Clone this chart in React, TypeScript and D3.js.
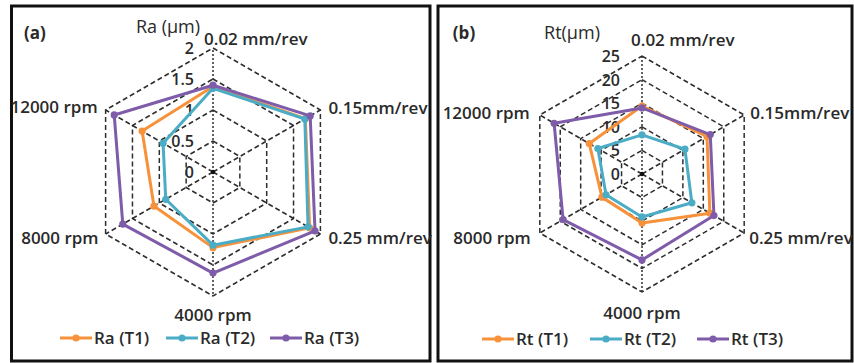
import React from "react";
import * as d3 from "d3";

const categories = ["0.02 mm/rev", "0.15mm/rev", "0.25 mm/rev", "4000 rpm", "8000 rpm", "12000 rpm"];

const raT1 = [1.38, 1.72, 1.8, 1.22, 1.1, 1.32];
const raT2 = [1.35, 1.71, 1.77, 1.18, 0.88, 0.93];
const raT3 = [1.4, 1.81, 1.9, 1.63, 1.68, 1.84];

const rtT1 = [14.4, 15.9, 16.6, 10.4, 9.8, 12.9];
const rtT2 = [8.3, 10.5, 12.2, 9.1, 8.8, 10.8];
const rtT3 = [14.0, 16.7, 17.6, 18.2, 19.3, 21.5];

const raTicks = [0, 0.5, 1, 1.5, 2];
const rtTicks = [0, 5, 10, 15, 20, 25];
const raTickLabels = ["0", "0.5", "1", "1.5", "2"];
const rtTickLabels = ["0", "5", "10", "15", "20", "25"];

const seriesColors = ["#F7923A", "#4BACC6", "#7E5CA9"];
const FONT = "'Open Sans', sans-serif";
const TEXT = "#2a2a2a";
const GRID = "#2e2e2e";

type LabelPos = { dx: number; dy: number; anchor: string };

type PanelProps = {
  frame: [number, number, number, number];
  cx: number;
  cy: number;
  R: number;
  ticks: number[];
  tickLabels: string[];
  tickDx: number;
  series: number[][];
  names: string[];
  title: string;
  titlePos: [number, number];
  tag: string;
  tagPos: [number, number];
  labelPos: LabelPos[];
  legendX: number[];
  legendY: number;
};

function RadarPanel(p: PanelProps) {
  const maxV = p.ticks[p.ticks.length - 1];
  const r = d3.scaleLinear().domain([0, maxV]).range([0, p.R]);
  const n = categories.length;
  const ang = (i: number) => (i * 2 * Math.PI) / n;
  const pt = (i: number, v: number): [number, number] => [
    p.cx + r(v) * Math.sin(ang(i)),
    p.cy - r(v) * Math.cos(ang(i)),
  ];
  const line = d3
    .lineRadial<number>()
    .angle((_, i) => ang(i))
    .radius((d) => r(d))
    .curve(d3.curveLinearClosed);

  const [fx, fy, fw, fh] = p.frame;
  return (
    <g>
      <rect x={fx} y={fy} width={fw} height={fh} fill="white" stroke="#111" strokeWidth={3} />
      {p.ticks.slice(1).map((t) => (
        <path
          key={"ring" + t}
          d={line(categories.map(() => t)) || ""}
          transform={`translate(${p.cx},${p.cy})`}
          fill="none"
          stroke={GRID}
          strokeWidth={1.5}
          strokeDasharray="5,3"
        />
      ))}
      {categories.map((c, i) => {
        const [x2, y2] = pt(i, maxV);
        return (
          <line
            key={"sp" + i}
            x1={p.cx}
            y1={p.cy}
            x2={x2}
            y2={y2}
            stroke={GRID}
            strokeWidth={1.5}
            strokeDasharray={i === 0 || i === 3 ? "2,2" : "5,3"}
          />
        );
      })}
      <circle cx={p.cx} cy={p.cy} r={2.2} fill="#111" />
      {p.ticks.map((t, k) => (
        <text
          key={"tk" + t}
          x={p.cx + p.tickDx}
          y={p.cy - r(t) + 6}
          textAnchor="end"
          fontSize={16}
          fontFamily={FONT}
          fontWeight={600}
          fill={TEXT}
        >
          {p.tickLabels[k]}
        </text>
      ))}
      {p.series.map((s, si) => (
        <g key={"s" + si}>
          <path
            d={line(s) || ""}
            transform={`translate(${p.cx},${p.cy})`}
            fill="none"
            stroke={seriesColors[si]}
            strokeWidth={3}
            strokeLinejoin="round"
          />
          {s.map((v, i) => {
            const [x, y] = pt(i, v);
            return <circle key={i} cx={x} cy={y} r={3.6} fill={seriesColors[si]} />;
          })}
        </g>
      ))}
      {categories.map((c, i) => {
        const [vx, vy] = pt(i, maxV);
        const lp = p.labelPos[i];
        return (
          <text
            key={"cl" + i}
            x={vx + lp.dx}
            y={vy + lp.dy}
            textAnchor={lp.anchor}
            fontSize={17}
            fontFamily={FONT}
            fontWeight={600}
            fill={TEXT}
          >
            {c}
          </text>
        );
      })}
      <text x={p.titlePos[0]} y={p.titlePos[1]} textAnchor="middle" fontSize={18} fontFamily={FONT} fill={TEXT}>
        {p.title}
      </text>
      <text x={p.tagPos[0]} y={p.tagPos[1]} textAnchor="middle" fontSize={17} fontFamily={FONT} fontWeight={700} fill={TEXT}>
        {p.tag}
      </text>
      {p.names.map((nm, si) => {
        const lx = p.legendX[si];
        return (
          <g key={"lg" + si}>
            <line x1={lx} x2={lx + 32} y1={p.legendY} y2={p.legendY} stroke={seriesColors[si]} strokeWidth={3} />
            <circle cx={lx + 16} cy={p.legendY} r={3.6} fill={seriesColors[si]} />
            <text x={lx + 34} y={p.legendY + 6} fontSize={17} fontFamily={FONT} fontWeight={600} fill={TEXT}>
              {nm}
            </text>
          </g>
        );
      })}
    </g>
  );
}

export default function App() {
  return (
    <svg width={854} height={363} style={{ position: "absolute", left: 0, top: 0, background: "white" }}>
      <RadarPanel
        frame={[11.5, 6, 418.5, 355]}
        cx={213}
        cy={172}
        R={124}
        ticks={raTicks}
        tickLabels={raTickLabels}
        tickDx={-19}
        series={[raT1, raT2, raT3]}
        names={["Ra (T1)", "Ra (T2)", "Ra (T3)"]}
        title="Ra (µm)"
        titlePos={[168, 33]}
        tag="(a)"
        tagPos={[35, 39]}
        labelPos={[
          { dx: -9, dy: -3, anchor: "start" },
          { dx: 8, dy: 4, anchor: "start" },
          { dx: 8, dy: 10, anchor: "start" },
          { dx: 0, dy: 25, anchor: "middle" },
          { dx: -7, dy: 10, anchor: "end" },
          { dx: -8, dy: 3, anchor: "end" },
        ]}
        legendX={[60, 166, 270]}
        legendY={338}
      />
      <RadarPanel
        frame={[438, 6, 414, 355]}
        cx={642}
        cy={174}
        R={118}
        ticks={rtTicks}
        tickLabels={rtTickLabels}
        tickDx={-22}
        series={[rtT1, rtT2, rtT3]}
        names={["Rt (T1)", "Rt (T2)", "Rt (T3)"]}
        title="Rt(µm)"
        titlePos={[572, 39]}
        tag="(b)"
        tagPos={[464, 39]}
        labelPos={[
          { dx: -11, dy: -10, anchor: "start" },
          { dx: 6, dy: 4, anchor: "start" },
          { dx: 5, dy: 11, anchor: "start" },
          { dx: 0, dy: 27, anchor: "middle" },
          { dx: -9, dy: 11, anchor: "end" },
          { dx: -10, dy: 4, anchor: "end" },
        ]}
        legendX={[482, 590, 697]}
        legendY={339}
      />
    </svg>
  );
}
